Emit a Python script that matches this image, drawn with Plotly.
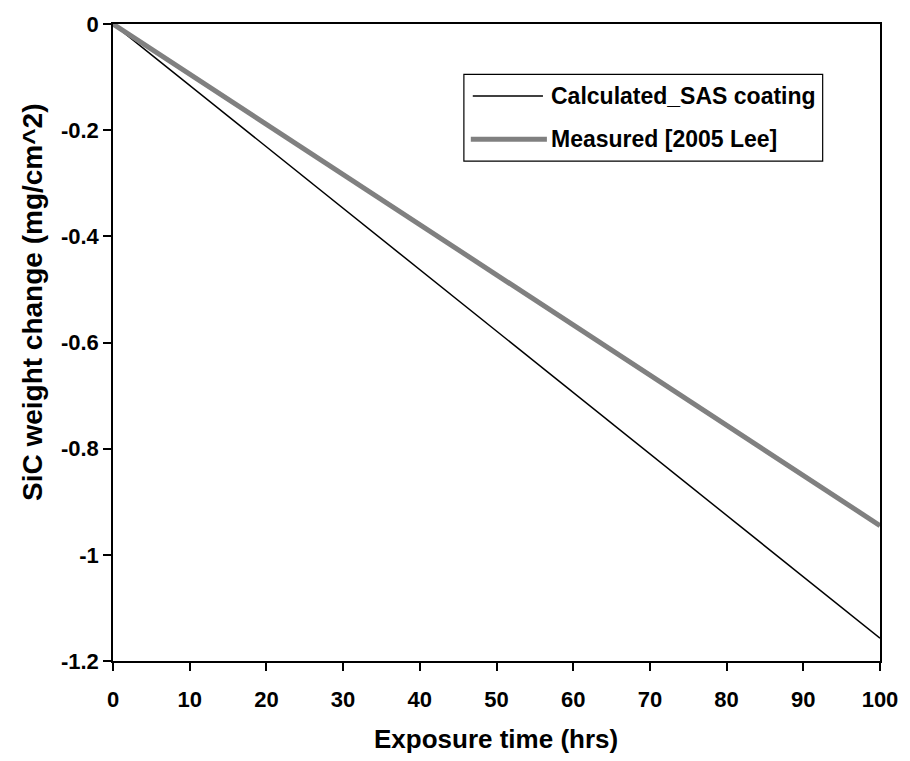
import plotly.graph_objects as go

# Exposure time (hrs) and SiC weight change (mg/cm^2)
hours = [0, 100]
calculated_sas = [0.0, -1.157]
measured_lee = [0.0, -0.945]

x_ticks = [0, 10, 20, 30, 40, 50, 60, 70, 80, 90, 100]
y_ticks = [0, -0.2, -0.4, -0.6, -0.8, -1.0, -1.2]
y_tick_text = ["0", "-0.2", "-0.4", "-0.6", "-0.8", "-1", "-1.2"]

FONT = "Liberation Sans, Arial, sans-serif"

fig = go.Figure()
fig.add_trace(go.Scatter(x=hours, y=calculated_sas, mode="lines",
                         line=dict(color="black", width=1.5),
                         name="Calculated_SAS coating", showlegend=False))
fig.add_trace(go.Scatter(x=hours, y=measured_lee, mode="lines",
                         line=dict(color="#808080", width=5),
                         name="Measured [2005 Lee]", showlegend=False))

# Plot area in pixels: x 113..889, y 15..661
L, R, T, B = 113, 889, 15, 661
W, H = R - L, B - T


def px(xp):
    return (xp - L) / W


def py(yp):
    return (B - yp) / H


# Boxed legend
shapes = [dict(type="rect", xref="paper", yref="paper",
               x0=px(468), x1=px(831), y0=py(154), y1=py(66),
               line=dict(color="black", width=1.2), fillcolor="white", layer="above")]
annotations = []
entries = [("Calculated_SAS coating", "black", 1.5, 88, 477, 548),
           ("Measured [2005 Lee]", "#808080", 5, 132, 475, 552)]
for label, color, width, yrow, lx0, lx1 in entries:
    shapes.append(dict(type="line", xref="paper", yref="paper",
                       x0=px(lx0), x1=px(lx1), y0=py(yrow), y1=py(yrow),
                       line=dict(color=color, width=width), layer="above"))
    annotations.append(dict(text="<b>%s</b>" % label, xref="paper", yref="paper",
                            x=px(554), y=py(yrow), xanchor="left", yanchor="middle",
                            showarrow=False, font=dict(family=FONT, size=23, color="black")))

# Axis titles
annotations.append(dict(text="<b>Exposure time (hrs)</b>", xref="paper", yref="paper",
                        x=px(500), y=py(740), xanchor="center", yanchor="middle",
                        showarrow=False, font=dict(family=FONT, size=26, color="black")))
annotations.append(dict(text="<b>SiC weight change (mg/cm^2)</b>", xref="paper", yref="paper",
                        x=px(31), y=py(297), xanchor="center", yanchor="middle",
                        textangle=-90, showarrow=False,
                        font=dict(family=FONT, size=28, color="black")))

fig.update_layout(
    width=910, height=761,
    margin=dict(l=L, r=910 - R, t=T, b=761 - B),
    paper_bgcolor="white", plot_bgcolor="white",
    font=dict(family=FONT, color="black"),
    shapes=shapes, annotations=annotations,
    xaxis=dict(range=[0, 100], tickvals=x_ticks,
               ticktext=["<b>%d</b>" % v for v in x_ticks],
               ticks="outside", ticklen=8, tickwidth=1.5, tickcolor="black",
               ticklabelstandoff=10,
               showline=True, linecolor="black", linewidth=1.5, mirror=True,
               showgrid=False, zeroline=False,
               tickfont=dict(family=FONT, size=22, color="black")),
    yaxis=dict(range=[-1.2, 0], tickvals=y_ticks,
               ticktext=["<b>%s</b>" % t for t in y_tick_text],
               ticks="outside", ticklen=8, tickwidth=1.5, tickcolor="black",
               showline=True, linecolor="black", linewidth=1.5, mirror=True,
               showgrid=False, zeroline=False,
               tickfont=dict(family=FONT, size=22, color="black")),
)

fig.write_html("out.html")
